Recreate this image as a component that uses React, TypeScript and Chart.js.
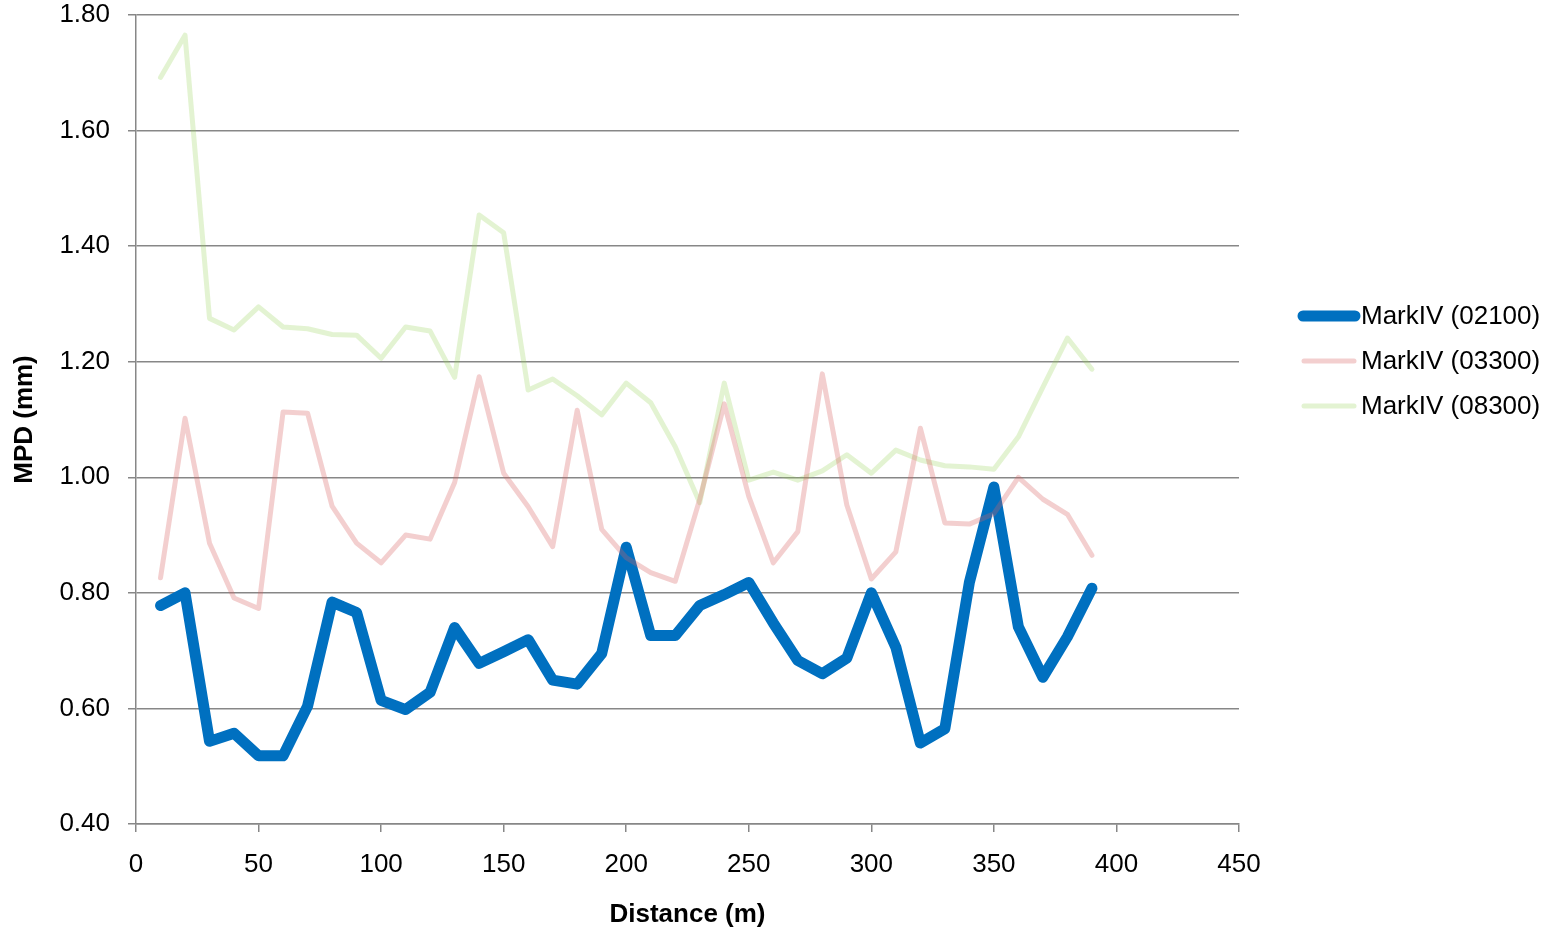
import { useEffect, useRef } from "react";
import { Chart, registerables } from "chart.js";

Chart.register(...registerables);

const distances = [
  10, 20, 30, 40, 50, 60, 70, 80, 90, 100, 110, 120, 130, 140, 150, 160, 170, 180, 190, 200,
  210, 220, 230, 240, 250, 260, 270, 280, 290, 300, 310, 320, 330, 340, 350, 360, 370, 380, 390,
];

const mark02100 = [
  0.778, 0.8, 0.543, 0.557, 0.518, 0.518, 0.604, 0.784, 0.766, 0.614, 0.598, 0.628, 0.74, 0.678,
  0.698, 0.719, 0.649, 0.642, 0.695, 0.879, 0.726, 0.726, 0.778, 0.797, 0.818, 0.748, 0.683,
  0.66, 0.687, 0.8, 0.706, 0.54, 0.565, 0.818, 0.983, 0.741, 0.654, 0.724, 0.808,
];

const mark03300 = [
  0.826, 1.102, 0.886, 0.791, 0.773, 1.113, 1.111, 0.95, 0.886, 0.852, 0.9, 0.893, 0.991, 1.174,
  1.007, 0.949, 0.88, 1.116, 0.91, 0.861, 0.835, 0.82, 0.962, 1.127, 0.967, 0.852, 0.906, 1.179,
  0.952, 0.824, 0.871, 1.085, 0.921, 0.919, 0.937, 1.0, 0.962, 0.936, 0.865,
];

const mark08300 = [
  1.692, 1.765, 1.275, 1.255, 1.295, 1.26, 1.257, 1.247, 1.246, 1.206, 1.26, 1.253, 1.173, 1.454,
  1.423, 1.151, 1.17, 1.141, 1.108, 1.163, 1.129, 1.053, 0.956, 1.163, 0.995, 1.009, 0.995,
  1.011, 1.039, 1.007, 1.047, 1.03, 1.02, 1.018, 1.014, 1.07, 1.156, 1.241, 1.187,
];

const seriesLabels = ["MarkIV (02100)", "MarkIV (03300)", "MarkIV (08300)"];

const yMin = 0.4;
const yMax = 1.8;
const yStep = 0.2;
const xMin = 0;
const xMax = 450;
const xStep = 50;

const FONT = "'Liberation Sans', Arial, Helvetica, sans-serif";
const GRID = "#878787";
const FS = 26;

export default function App() {
  const ref = useRef<HTMLCanvasElement | null>(null);

  useEffect(() => {
    document.body.style.margin = "0";
    const canvas = ref.current;
    if (!canvas) return;

    const toPoints = (vals: number[]) => distances.map((x, i) => ({ x, y: vals[i] }));

    const legendPlugin = {
      id: "sideLegend",
      afterDraw(chart: any) {
        const ctx = chart.ctx as CanvasRenderingContext2D;
        ctx.save();
        chart.data.datasets.forEach((ds: any, i: number) => {
          const cy = 316 + i * 45;
          ctx.beginPath();
          ctx.strokeStyle = ds.borderColor;
          ctx.lineWidth = ds.borderWidth;
          ctx.lineCap = "round";
          ctx.moveTo(i === 0 ? 1303 : 1304, cy);
          ctx.lineTo(i === 0 ? 1355 : 1354, cy);
          ctx.stroke();
          ctx.fillStyle = "#000";
          ctx.font = `${FS}px ${FONT}`;
          ctx.textAlign = "left";
          ctx.textBaseline = "middle";
          ctx.fillText(ds.label, 1361, cy + 1);
        });
        ctx.restore();
      },
    };

    const chart = new Chart(canvas, {
      type: "line",
      data: {
        datasets: [
          {
            label: seriesLabels[0],
            data: toPoints(mark02100),
            borderColor: "#0070C0",
            borderWidth: 11,
            borderJoinStyle: "round",
            borderCapStyle: "round",
            pointRadius: 0,
            tension: 0,
            order: 1,
          },
          {
            label: seriesLabels[1],
            data: toPoints(mark03300),
            borderColor: "rgba(215,95,95,0.3)",
            borderWidth: 5,
            borderJoinStyle: "round",
            borderCapStyle: "round",
            pointRadius: 0,
            tension: 0,
            order: 0,
          },
          {
            label: seriesLabels[2],
            data: toPoints(mark08300),
            borderColor: "rgba(146,208,80,0.26)",
            borderWidth: 5,
            borderJoinStyle: "round",
            borderCapStyle: "round",
            pointRadius: 0,
            tension: 0,
            order: 0,
          },
        ],
      },
      options: {
        responsive: false,
        animation: false,
        devicePixelRatio: 1,
        layout: { padding: { top: 15, right: 313, bottom: 0, left: 0 } },
        plugins: {
          legend: { display: false },
          tooltip: { enabled: false },
        },
        scales: {
          x: {
            type: "linear",
            min: xMin,
            max: xMax,
            afterFit: (scale: any) => {
              scale.height = 106;
            },
            ticks: {
              stepSize: xStep,
              color: "#000",
              font: { family: FONT, size: FS },
              padding: 17,
              maxRotation: 0,
            },
            grid: {
              drawOnChartArea: false,
              drawTicks: true,
              tickLength: 8,
              color: GRID,
              lineWidth: 1.5,
            },
            border: { display: true, color: GRID, width: 1.5 },
            title: {
              display: true,
              text: "Distance (m)",
              color: "#000",
              font: { family: FONT, size: FS, weight: "bold" },
              padding: { top: 0, bottom: 0 },
            },
          },
          y: {
            type: "linear",
            min: yMin,
            max: yMax,
            afterFit: (scale: any) => {
              scale.width = 136;
              scale.paddingTop = 0;
              scale.paddingBottom = 0;
            },
            ticks: {
              stepSize: yStep,
              color: "#000",
              font: { family: FONT, size: FS },
              padding: 18,
              callback: (v: any) => Number(v).toFixed(2),
            },
            grid: {
              drawTicks: true,
              tickLength: 8,
              color: GRID,
              lineWidth: 1.5,
            },
            border: { display: true, color: GRID, width: 1.5 },
            title: {
              display: true,
              text: "MPD (mm)",
              color: "#000",
              font: { family: FONT, size: FS, weight: "bold" },
              padding: { top: 9, bottom: 0 },
            },
          },
        },
      },
      plugins: [legendPlugin],
    } as any);

    return () => {
      chart.destroy();
    };
  }, []);

  return (
    <div style={{ position: "fixed", left: 0, top: 0, width: 1552, height: 930, background: "#fff" }}>
      <canvas ref={ref} width={1552} height={930} style={{ display: "block" }} />
    </div>
  );
}
